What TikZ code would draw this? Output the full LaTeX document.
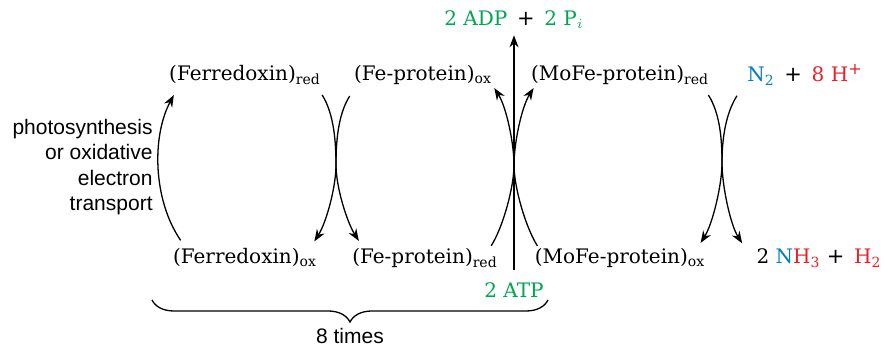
\documentclass[tikz,border=0pt]{standalone}
\usepackage{fontspec}
\setmainfont{DejaVu Serif}
\setsansfont{Liberation Sans}
\newfontfamily\plusfont{DejaVu Sans}
\usetikzlibrary{arrows.meta,calc,decorations.pathreplacing}
\definecolor{atpgreen}{RGB}{0,166,81}
\definecolor{nblue}{RGB}{0,125,195}
\definecolor{hred}{RGB}{232,32,40}
\newcommand{\chemplus}{{\plusfont\fontsize{10.5}{12}\selectfont +}}
\tikzset{
  chem/.style={inner sep=0pt,font=\fontsize{10}{12}\selectfont},
  sftext/.style={inner sep=0pt,font=\sffamily\fontsize{10.5}{12.75}\selectfont},
  arr/.style={line width=0.65pt,-{Stealth[length=6pt,width=4.5pt]}}
}
\begin{document}
\begin{tikzpicture}[x=0.5pt,y=0.5pt]
  \useasboundingbox (0,0) rectangle (884,346);
  % top row
  \node[chem] (adp) at (514,326) {\color{atpgreen}2 ADP\, {\color{black}\chemplus}\, 2 P$_i$};
  \node[chem] (fdred) at (245,271) {(Ferredoxin)\textsubscript{red}};
  \node[chem] (fpox) at (423,271) {(Fe-protein)\textsubscript{ox}};
  \node[chem] (mored) at (620,271) {(MoFe-protein)\textsubscript{red}};
  \node[chem] (n2) at (805,271) {{\color{nblue}N\textsubscript{2}}\, \chemplus\, {\color{hred}8 H\textsuperscript{\plusfont\fontsize{8}{8}\selectfont +}}};
  % bottom row
  \node[chem] (fdox) at (245,88) {(Ferredoxin)\textsubscript{ox}};
  \node[chem] (fpred) at (425,88) {(Fe-protein)\textsubscript{red}};
  \node[chem] (moox) at (620,88) {(MoFe-protein)\textsubscript{ox}};
  \node[chem] (nh3) at (819,88) {2 {\color{nblue}N}{\color{hred}H\textsubscript{3}} \chemplus\, {\color{hred}H\textsubscript{2}}};
  \node[chem] (atp) at (514,56) {\color{atpgreen}2 ATP};
  % left side note
  \node[sftext,align=right,anchor=east] (photo) at (153,179)
    {photosynthesis\\or oxidative\\electron\\transport};
  % touching points of the coupled arrows
  \coordinate (x1) at (336,181);
  \coordinate (x2) at (514,181);
  \coordinate (x3) at (722,183);
  % reduction of ferredoxin
  \draw[arr] ($(fdox.north west)+(8,8)$) .. controls +(-28,41) and +(-22,-41) .. ($(fdred.south west)+(5,-10)$);
  % ferredoxin / Fe-protein
  \draw[arr] ($(fdred.south east)+(1,-10)$) .. controls +(12,-19) and +(0,22) .. (x1)
    .. controls +(0,-22) and +(12,19) .. ($(fdox.north east)+(-3,7)$);
  \draw[arr] ($(fpox.south west)+(-4,-11)$) .. controls +(-12,-19) and +(0,22) .. (x1)
    .. controls +(0,-22) and +(-12,19) .. ($(fpred.north west)+(7,7)$);
  % Fe-protein / MoFe-protein
  \draw[arr] ($(fpred.north east)+(-7,2)$) .. controls +(12,19) and +(0,-22) .. (x2)
    .. controls +(0,22) and +(12,-19) .. ($(fpox.south east)+(2,-3)$);
  \draw[arr] ($(moox.north west)+(3,2)$) .. controls +(-12,19) and +(0,-22) .. (x2)
    .. controls +(0,22) and +(-12,-19) .. ($(mored.south west)+(3,-3)$);
  % MoFe-protein / N2
  \draw[arr] ($(mored.south east)+(-1,-10)$) .. controls +(12,-19) and +(0,22) .. (x3)
    .. controls +(0,-22) and +(12,19) .. ($(moox.north east)+(-5,5)$);
  \draw[arr] ($(n2.south west)+(-10,-10)$) .. controls +(-12,-19) and +(0,22) .. (x3)
    .. controls +(0,-22) and +(-12,19) .. ($(nh3.north west)+(-14,5)$);
  % ATP hydrolysis
  \draw[arr,shorten <=6pt,shorten >=3pt] (atp.north) -- (adp.south);
  % brace
  \coordinate (bl) at (152,46);
  \coordinate (br) at (548,46);
  \draw[line width=0.65pt,decorate,decoration={brace,mirror,amplitude=11pt}] (bl) -- (br);
  \node[sftext] (times) at (350,10) {8 times};
\end{tikzpicture}
\end{document}
